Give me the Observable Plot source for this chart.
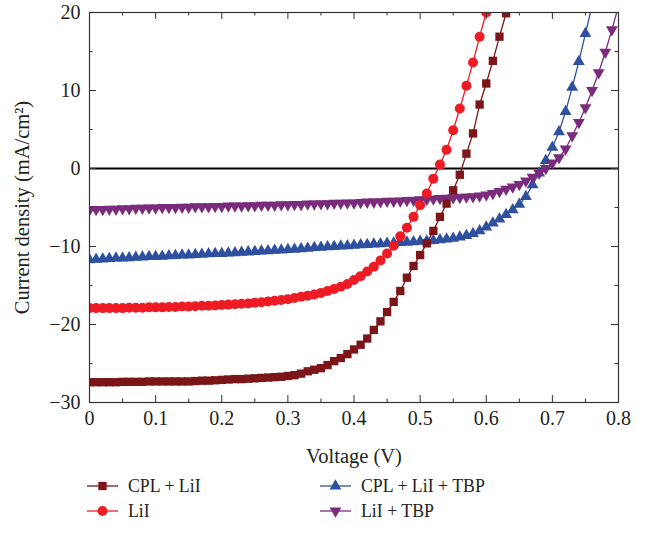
<!DOCTYPE html>
<html>
<head>
<meta charset="utf-8">
<script src="https://cdn.jsdelivr.net/npm/d3@7"></script>
<script src="https://cdn.jsdelivr.net/npm/@observablehq/plot@0.6"></script>
<style>
  body { margin: 0; background: white; }
  #chart svg { display: block; }
  #legend { position: relative; width: 646px; height: 65px; font-family: "Liberation Serif", serif; font-size: 17.8px; color: #231f20; }
  .item { position: absolute; display: flex; align-items: center; height: 24px; }
  .item svg { display: block; margin-right: 10px; }
</style>
</head>
<body>
<div id="chart"></div>
<div id="legend"></div>
<script>
// ---------- data ----------
const voltage = [0.00,0.01,0.02,0.03,0.04,0.05,0.06,0.07,0.08,0.09,
  0.10,0.11,0.12,0.13,0.14,0.15,0.16,0.17,0.18,0.19,
  0.20,0.21,0.22,0.23,0.24,0.25,0.26,0.27,0.28,0.29,
  0.30,0.31,0.32,0.33,0.34,0.35,0.36,0.37,0.38,0.39,
  0.40,0.41,0.42,0.43,0.44,0.45,0.46,0.47,0.48,0.49,
  0.50,0.51,0.52,0.53,0.54,0.55,0.56,0.57,0.58,0.59,
  0.60,0.61,0.62,0.63,0.64,0.65,0.66,0.67,0.68,0.69,
  0.70,0.71,0.72,0.73,0.74,0.75,0.76,0.77,0.78,0.79,0.80];

const jCplLiI = [-27.4,-27.4,-27.4,-27.4,-27.4,-27.35,-27.35,-27.35,-27.35,-27.3,
  -27.3,-27.3,-27.3,-27.3,-27.3,-27.3,-27.25,-27.2,-27.2,-27.15,
  -27.1,-27.05,-27.0,-27.0,-26.95,-26.9,-26.85,-26.8,-26.75,-26.7,
  -26.6,-26.5,-26.3,-26.0,-25.8,-25.6,-25.2,-24.7,-24.3,-23.8,
  -23.2,-22.6,-21.8,-20.7,-19.6,-18.4,-17.1,-15.7,-14.0,-12.5,
  -11.1,-9.6,-8.0,-6.2,-4.5,-2.8,-0.8,1.9,4.5,8.2,
  10.9,13.8,16.9,19.9];

const jLiI = [-17.9,-17.9,-17.9,-17.9,-17.9,-17.9,-17.85,-17.85,-17.85,-17.8,
  -17.8,-17.8,-17.75,-17.75,-17.7,-17.7,-17.65,-17.6,-17.6,-17.55,
  -17.5,-17.45,-17.4,-17.35,-17.3,-17.2,-17.15,-17.05,-16.95,-16.85,
  -16.75,-16.6,-16.45,-16.3,-16.15,-15.95,-15.7,-15.45,-15.15,-14.8,
  -14.3,-13.8,-13.2,-12.6,-11.8,-10.9,-9.9,-8.7,-7.6,-6.2,
  -4.7,-3.2,-1.3,0.5,2.4,4.9,7.7,10.6,13.6,16.9,
  20.0];

const jCplLiITbp = [-11.7,-11.65,-11.6,-11.55,-11.5,-11.5,-11.45,-11.4,-11.35,-11.3,
  -11.3,-11.25,-11.2,-11.15,-11.1,-11.1,-11.05,-11.0,-10.95,-10.9,
  -10.9,-10.85,-10.8,-10.75,-10.7,-10.65,-10.6,-10.55,-10.5,-10.45,
  -10.4,-10.35,-10.3,-10.25,-10.15,-10.1,-10.05,-10.0,-9.95,-9.9,
  -9.85,-9.8,-9.75,-9.7,-9.65,-9.6,-9.55,-9.5,-9.45,-9.4,
  -9.35,-9.3,-9.25,-9.15,-9.05,-8.95,-8.8,-8.6,-8.35,-8.0,
  -7.5,-7.0,-6.5,-5.9,-5.3,-4.6,-3.6,-2.1,-0.6,1.0,
  2.7,4.7,7.3,10.4,13.7,17.3,20.9];

const jLiITbp = [-5.3,-5.25,-5.25,-5.2,-5.2,-5.15,-5.15,-5.1,-5.1,-5.05,
  -5.05,-5.0,-5.0,-5.0,-4.95,-4.95,-4.9,-4.9,-4.9,-4.85,
  -4.85,-4.8,-4.8,-4.8,-4.75,-4.75,-4.7,-4.7,-4.7,-4.65,
  -4.65,-4.6,-4.6,-4.55,-4.55,-4.5,-4.5,-4.45,-4.45,-4.4,
  -4.4,-4.35,-4.3,-4.3,-4.25,-4.2,-4.2,-4.15,-4.1,-4.05,
  -4.0,-3.95,-3.9,-3.85,-3.8,-3.75,-3.7,-3.65,-3.6,-3.5,
  -3.4,-3.2,-2.95,-2.65,-2.35,-2.05,-1.6,-1.1,-0.6,0.0,
  0.7,1.4,2.5,4.2,5.9,7.8,10.0,12.3,14.9,17.8,20.8];

const seriesNames = ["CPL + LiI", "LiI", "CPL + LiI + TBP", "LiI + TBP"];
const seriesColors = ["#7b1518", "#ed1c24", "#2f4f9f", "#7a2b7c"];
const seriesValues = [jCplLiI, jLiI, jCplLiITbp, jLiITbp];

const xTicks = [0, 0.1, 0.2, 0.3, 0.4, 0.5, 0.6, 0.7, 0.8];
const xMinor = [0.05, 0.15, 0.25, 0.35, 0.45, 0.55, 0.65, 0.75];
const yTicks = [-30, -20, -10, 0, 10, 20];
const yMinor = [-25, -15, -5, 5, 15];

// ---------- symbols ----------
const triangleDown = {
  draw(context, size) {
    const s3 = Math.sqrt(3);
    const y = -Math.sqrt(size / (s3 * 3));
    context.moveTo(0, -y * 2);
    context.lineTo(-s3 * y, y);
    context.lineTo(s3 * y, y);
    context.closePath();
  }
};
const seriesSymbols = [d3.symbolSquare, d3.symbolCircle, d3.symbolTriangle, triangleDown];
const seriesR = [4.7, 5, 4.4, 4.4];

const series = seriesNames.map((name, i) => ({
  name, color: seriesColors[i], symbol: seriesSymbols[i], r: seriesR[i],
  rows: seriesValues[i].map((j, k) => ({V: voltage[k], J: j}))
}));

// ---------- chart ----------
const W = 646, H = 470, mL = 89, mR = 28, mT = 12, mB = 68;
const innerW = W - mL - mR, innerH = H - mT - mB;
const majorLen = 7, minorLen = 3.5;
const frameColor = "#333";

const drawOrder = [2, 3, 1, 0];
const dataMarks = [];
for (const i of drawOrder) {
  const s = series[i];
  dataMarks.push(Plot.line(s.rows, {x: "V", y: "J", stroke: s.color, strokeWidth: 1.3, clip: true}));
}
for (const i of drawOrder) {
  const s = series[i];
  dataMarks.push(Plot.dot(s.rows, {x: "V", y: "J", fill: s.color, symbol: s.symbol, r: s.r, stroke: "none", clip: true}));
}

const tickMarks = (vals, len) => [
  Plot.tickX(vals, {x: d => d, insetTop: innerH - len, stroke: frameColor}),
  Plot.tickX(vals, {x: d => d, insetBottom: innerH - len, stroke: frameColor}),
];
const tickMarksY = (vals, len) => [
  Plot.tickY(vals, {y: d => d, insetRight: innerW - len, stroke: frameColor}),
  Plot.tickY(vals, {y: d => d, insetLeft: innerW - len, stroke: frameColor}),
];

const chart = Plot.plot({
  width: W, height: H,
  marginLeft: mL, marginRight: mR, marginTop: mT, marginBottom: mB,
  style: {fontFamily: "Liberation Serif, serif", fontSize: "20px", color: "#231f20", background: "white"},
  x: {domain: [0, 0.8]},
  y: {domain: [-30, 20]},
  marks: [
    Plot.axisX(xTicks, {tickSize: 0, tickPadding: 8, tickFormat: d => d === 0 ? "0" : d.toFixed(1),
      label: null, fontSize: 20}),
    Plot.axisX({ticks: [], tickSize: 0, label: "Voltage (V)", labelAnchor: "center", labelOffset: 60, labelArrow: "none", fontSize: 20.5}),
    Plot.axisY(yTicks, {tickSize: 0, tickPadding: 9, tickFormat: d => d < 0 ? "\u2212" + Math.abs(d) : String(d),
      label: null, fontSize: 20}),
    Plot.axisY({ticks: [], tickSize: 0, label: "Current density (mA/cm²)", labelAnchor: "center", labelOffset: 75, labelArrow: "none", fontSize: 20.5}),
    Plot.ruleY([0], {stroke: "black", strokeWidth: 1.8}),
    ...dataMarks,
    ...tickMarks(xTicks, majorLen), ...tickMarks(xMinor, minorLen),
    ...tickMarksY(yTicks, majorLen), ...tickMarksY(yMinor, minorLen),
    Plot.frame({stroke: frameColor, strokeWidth: 1.2})
  ]
});
document.getElementById("chart").appendChild(chart);

// ---------- legend ----------
const legend = d3.select("#legend");
const legendPos = [[87, 16], [87, 41], [320, 16], [320, 41]];
series.forEach((s, i) => {
  const [lx, ly] = legendPos[i];
  const item = legend.append("div").attr("class", "item")
    .style("left", lx + "px").style("top", (ly - 12) + "px");
  const svg = item.append("svg").attr("width", 31).attr("height", 24);
  svg.append("line").attr("x1", 0).attr("x2", 31).attr("y1", 12).attr("y2", 12)
    .attr("stroke", s.color).attr("stroke-width", 1.3);
  svg.append("path").attr("transform", "translate(15.5,12)")
    .attr("d", d3.symbol().type(s.symbol).size(Math.PI * s.r * s.r)())
    .attr("fill", s.color);
  item.append("span").text(s.name);
});
</script>
</body>
</html>
